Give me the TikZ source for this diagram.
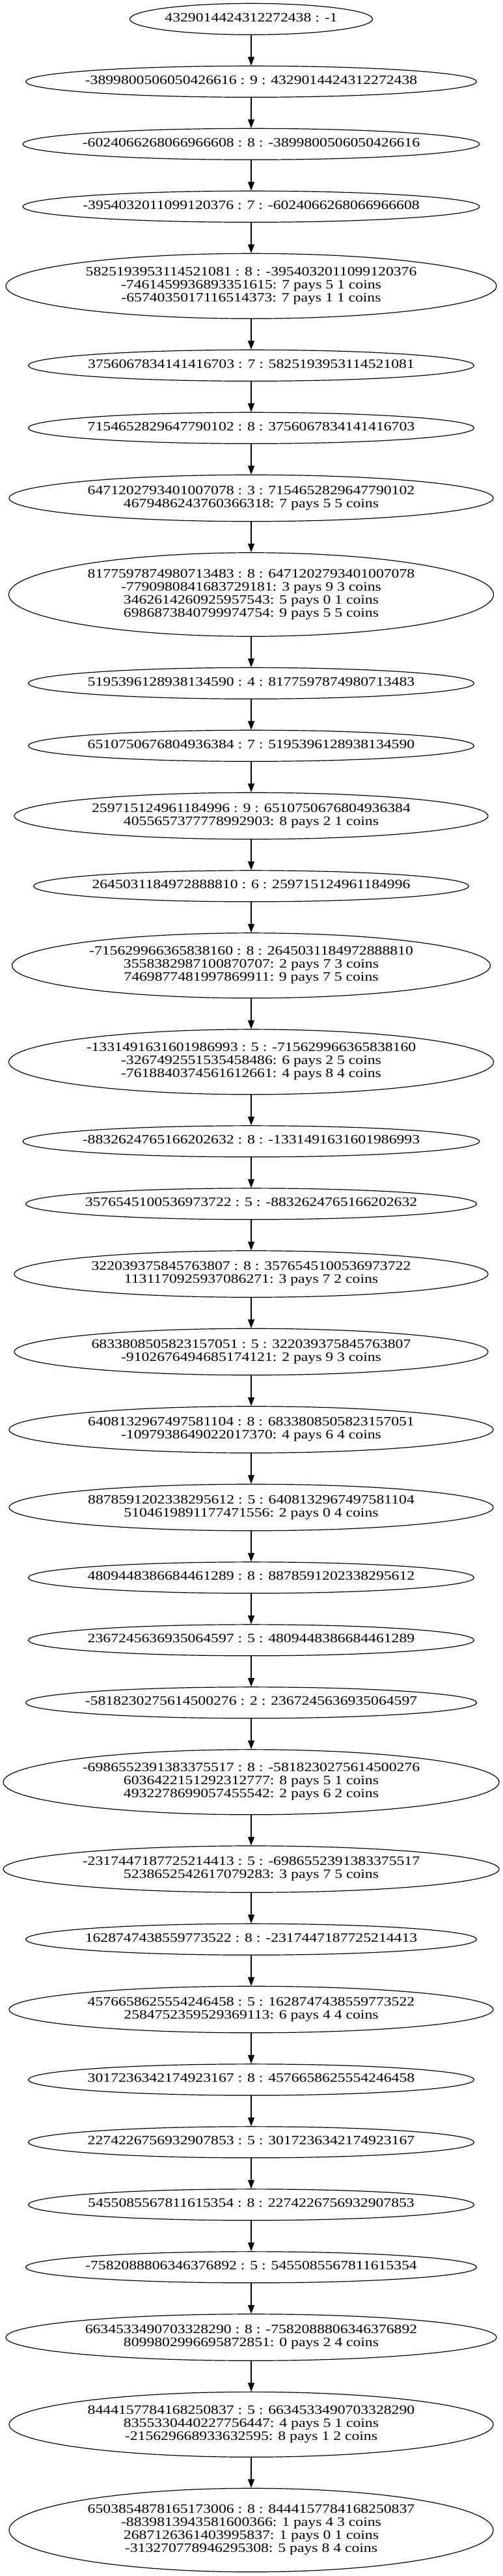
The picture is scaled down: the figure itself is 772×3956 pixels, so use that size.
\documentclass[tikz,border=0pt]{standalone}
\usepackage{fontspec}
\setmainfont{Liberation Serif}[FakeStretch=1.2]
\usetikzlibrary{arrows.meta,shapes.geometric}
\newcommand\nlines[1]{\makebox[0pt]{\begin{tabular}{@{}c@{}}#1\end{tabular}}}
\newcommand\gnode[5]{\node[ell, minimum width=#2*0.75pt, minimum height=#3*0.75pt] (#1) at (386,#4) {\nlines{#5}};}
\begin{document}
\begin{tikzpicture}[x=0.75pt,y=-0.75pt,
  ell/.style={ellipse, draw, line width=0.9pt, inner sep=0pt, font=\fontsize{14.8}{15}\selectfont},
  arr/.style={-{Triangle[length=10pt,width=7.5pt]}, line width=0.9pt}]
\fill[white] (0,0) rectangle (772,3956);
\useasboundingbox (0,0) rectangle (772,3956);
\gnode{n1}{373}{48}{29.3}{4329014424312272438 : -1}
\gnode{n2}{693}{48}{125.3}{-3899800506050426616 : 9 : 4329014424312272438}
\gnode{n3}{702}{48}{221.3}{-6024066268066966608 : 8 : -3899800506050426616}
\gnode{n4}{702}{48}{317.3}{-3954032011099120376 : 7 : -6024066268066966608}
\gnode{n5}{754}{100}{439.3}{5825193953114521081 : 8 : -3954032011099120376\\-7461459936893351615: 7 pays 5 1 coins\\-6574035017116514373: 7 pays 1 1 coins}
\gnode{n6}{685}{48}{561.3}{3756067834141416703 : 7 : 5825193953114521081}
\gnode{n7}{685}{48}{657.3}{7154652829647790102 : 8 : 3756067834141416703}
\gnode{n8}{744}{71.5}{765}{6471202793401007078 : 3 : 7154652829647790102\\4679486243760366318: 7 pays 5 5 coins}
\gnode{n9}{745}{128.5}{913}{8177597874980713483 : 8 : 6471202793401007078\\-7790980841683729181: 3 pays 9 3 coins\\3462614260925957543: 5 pays 0 1 coins\\6986873840799974754: 9 pays 5 5 coins}
\gnode{n10}{685}{48}{1049.3}{5195396128938134590 : 4 : 8177597874980713483}
\gnode{n11}{685}{48}{1145.3}{6510750676804936384 : 7 : 5195396128938134590}
\gnode{n12}{728}{71.5}{1253}{259715124961184996 : 9 : 6510750676804936384\\4055657377778992903: 8 pays 2 1 coins}
\gnode{n13}{669}{48}{1360.8}{2645031184972888810 : 6 : 259715124961184996}
\gnode{n14}{735}{100}{1482.8}{-715629966365838160 : 8 : 2645031184972888810\\3558382987100870707: 2 pays 7 3 coins\\7469877481997869911: 9 pays 7 5 coins}
\gnode{n15}{745}{100}{1630.8}{-1331491631601986993 : 5 : -715629966365838160\\-3267492551535458486: 6 pays 2 5 coins\\-7618840374561612661: 4 pays 8 4 coins}
\gnode{n16}{702}{48}{1752.8}{-8832624765166202632 : 8 : -1331491631601986993}
\gnode{n17}{693}{48}{1848.8}{3576545100536973722 : 5 : -8832624765166202632}
\gnode{n18}{728}{71.5}{1956.5}{322039375845763807 : 8 : 3576545100536973722\\1131170925937086271: 3 pays 7 2 coins}
\gnode{n19}{728}{71.5}{2076}{6833808505823157051 : 5 : 322039375845763807\\-9102676494685174121: 2 pays 9 3 coins}
\gnode{n20}{744}{71.5}{2195.5}{6408132967497581104 : 8 : 6833808505823157051\\-1097938649022017370: 4 pays 6 4 coins}
\gnode{n21}{744}{71.5}{2315}{8878591202338295612 : 5 : 6408132967497581104\\5104619891177471556: 2 pays 0 4 coins}
\gnode{n22}{685}{48}{2422.8}{4809448386684461289 : 8 : 8878591202338295612}
\gnode{n23}{685}{48}{2518.8}{2367245636935064597 : 5 : 4809448386684461289}
\gnode{n24}{693}{48}{2614.8}{-5818230275614500276 : 2 : 2367245636935064597}
\gnode{n25}{762}{100}{2736.8}{-6986552391383375517 : 8 : -5818230275614500276\\6036422151292312777: 8 pays 5 1 coins\\4932278699057455542: 2 pays 6 2 coins}
\gnode{n26}{762}{71.5}{2870.5}{-2317447187725214413 : 5 : -6986552391383375517\\5238652542617079283: 3 pays 7 5 coins}
\gnode{n27}{693}{48}{2978.3}{1628747438559773522 : 8 : -2317447187725214413}
\gnode{n28}{744}{71.5}{3086}{4576658625554246458 : 5 : 1628747438559773522\\2584752359529369113: 6 pays 4 4 coins}
\gnode{n29}{685}{48}{3193.8}{3017236342174923167 : 8 : 4576658625554246458}
\gnode{n30}{685}{48}{3289.8}{2274226756932907853 : 5 : 3017236342174923167}
\gnode{n31}{685}{48}{3385.8}{5455085567811615354 : 8 : 2274226756932907853}
\gnode{n32}{693}{48}{3481.8}{-7582088806346376892 : 5 : 5455085567811615354}
\gnode{n33}{754}{71.5}{3589.5}{6634533490703328290 : 8 : -7582088806346376892\\8099802996695872851: 0 pays 2 4 coins}
\gnode{n34}{744}{100}{3723.3}{8444157784168250837 : 5 : 6634533490703328290\\8355330440227756447: 4 pays 5 1 coins\\-215629668933632595: 8 pays 1 2 coins}
\gnode{n35}{744}{128.5}{3885.5}{6503854878165173006 : 8 : 8444157784168250837\\-8839813943581600366: 1 pays 4 3 coins\\2687126361403995837: 1 pays 0 1 coins\\-313270778946295308: 5 pays 8 4 coins}
\foreach \i in {1,...,34} {
  \pgfmathtruncatemacro\j{\i+1}
  \draw[arr] (n\i.south) -- (n\j.north);
}
\end{tikzpicture}
\end{document}
